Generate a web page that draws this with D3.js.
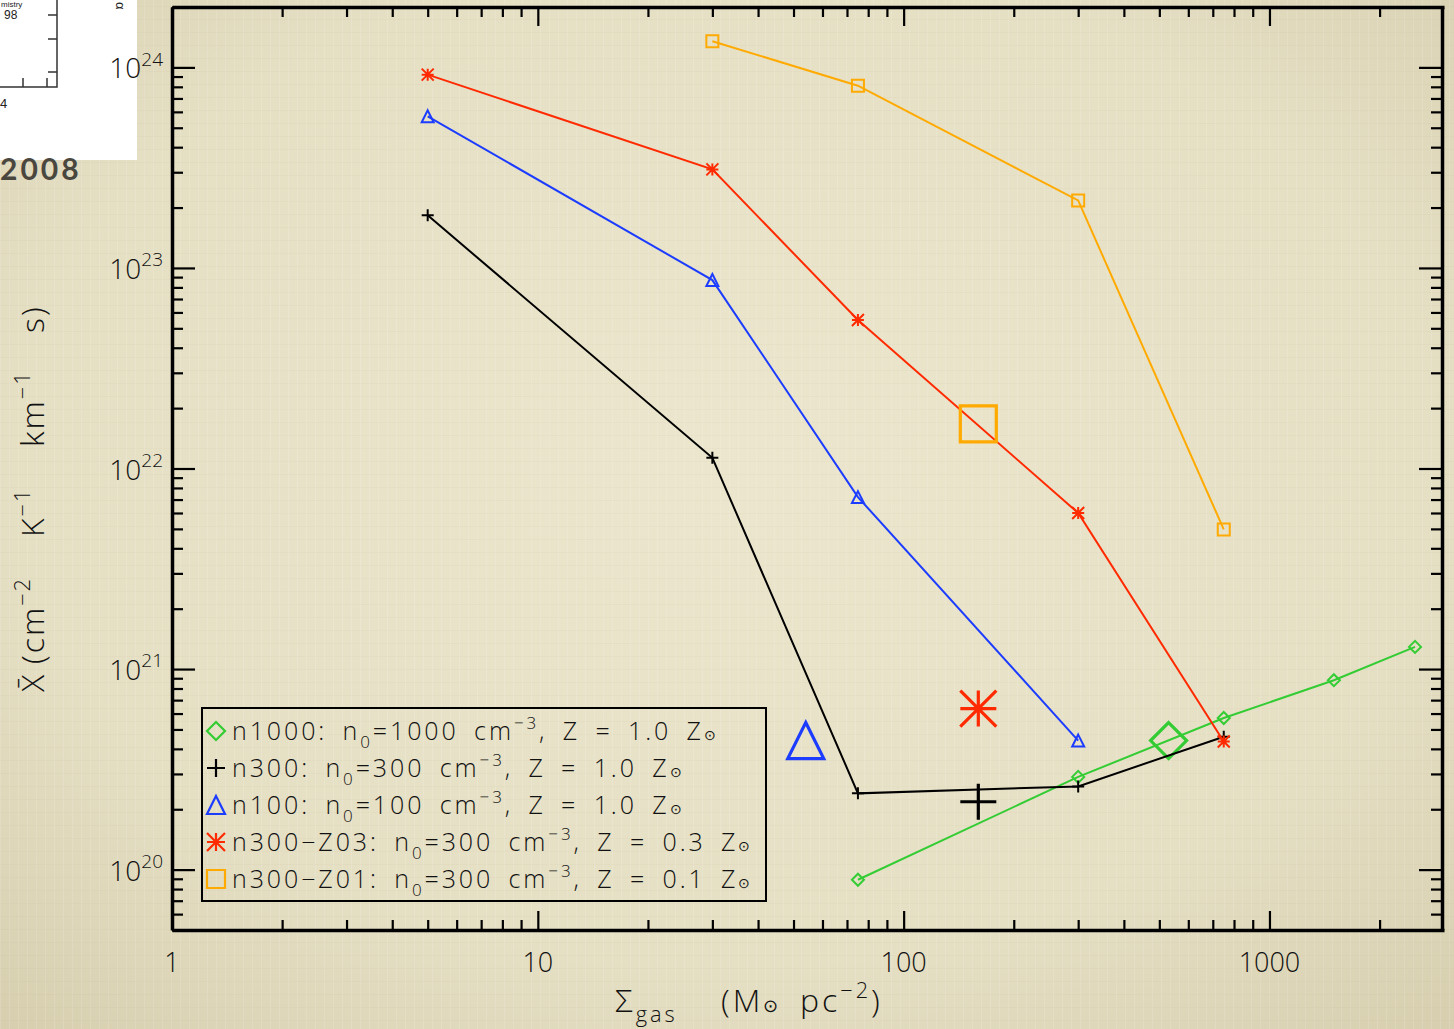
<!DOCTYPE html>
<html>
<head>
<meta charset="utf-8">
<script src="https://cdn.jsdelivr.net/npm/d3@7"></script>
<style>
  body { margin: 0; overflow: hidden; }
  svg { display: block; }
  text { white-space: pre; }
</style>
</head>
<body>
<div id="chart"></div>
<script>
// Sigma_gas (Msun pc^-2) and X-bar (cm^-2 K^-1 km^-1 s)
const sigmaN1000 = [75, 300, 750, 1500, 2500];
const xbarN1000  = [8.9e19, 2.9e20, 5.7e20, 8.8e20, 1.29e21];
const sigmaN300  = [5, 30, 75, 300, 750];
const xbarN300   = [1.83e23, 1.13e22, 2.4e20, 2.6e20, 4.6e20];
const sigmaN100  = [5, 30, 75, 300];
const xbarN100   = [5.7e23, 8.7e22, 7.2e21, 4.4e20];
const sigmaZ03   = [5, 30, 75, 300, 750];
const xbarZ03    = [9.2e23, 3.1e23, 5.5e22, 6.0e21, 4.35e20];
const sigmaZ01   = [30, 75, 300, 750];
const xbarZ01    = [1.35e24, 8.1e23, 2.17e23, 4.97e21];

// one large symbol per model (same order as the legend)
const bigSigma = [530, 160, 54, 160, 160];
const bigXbar  = [4.4e20, 2.18e20, 4.4e20, 6.35e20, 1.67e22];

const xTicks = [1, 10, 100, 1000];
const yTicks = [1e20, 1e21, 1e22, 1e23, 1e24];

const series = [
  {sig: sigmaN1000, xb: xbarN1000, color: '#33cc33', sym: 'diamond',
   label: [['n1000: n'], ['0', 'sub'], ['=1000 cm'], ['\u22123', 'sup'], [', Z = 1.0 Z'], ['\u2299', 'sun']]},
  {sig: sigmaN300, xb: xbarN300, color: '#000000', sym: 'plus',
   label: [['n300: n'], ['0', 'sub'], ['=300 cm'], ['\u22123', 'sup'], [', Z = 1.0 Z'], ['\u2299', 'sun']]},
  {sig: sigmaN100, xb: xbarN100, color: '#1c3cff', sym: 'triangle',
   label: [['n100: n'], ['0', 'sub'], ['=100 cm'], ['\u22123', 'sup'], [', Z = 1.0 Z'], ['\u2299', 'sun']]},
  {sig: sigmaZ03, xb: xbarZ03, color: '#ff2a00', sym: 'asterisk',
   label: [['n300\u2212Z03: n'], ['0', 'sub'], ['=300 cm'], ['\u22123', 'sup'], [', Z = 0.3 Z'], ['\u2299', 'sun']]},
  {sig: sigmaZ01, xb: xbarZ01, color: '#ffaa00', sym: 'square',
   label: [['n300\u2212Z01: n'], ['0', 'sub'], ['=300 cm'], ['\u22123', 'sup'], [', Z = 0.1 Z'], ['\u2299', 'sun']]}
];

const width = 1454, height = 1029;
const margin = {left: 172, right: 12, top: 7, bottom: 99};
const thin = '"Open Sans", sans-serif';

const x = d3.scaleLog().domain([1, 3000]).range([margin.left, width - margin.right + 2]);
const y = d3.scaleLog().domain([5e19, 2e24]).range([height - margin.bottom, margin.top]);
const x0 = margin.left, x1 = width - margin.right, y0 = height - margin.bottom, y1 = margin.top;

const svg = d3.select('#chart').append('svg')
  .attr('width', width)
  .attr('height', height);

// beige paper background
const defs = svg.append('defs');
const grad = defs.append('radialGradient').attr('id', 'paper')
  .attr('cx', '50%').attr('cy', '45%').attr('r', '75%');
grad.append('stop').attr('offset', '0%').attr('stop-color', '#ebe6cd');
grad.append('stop').attr('offset', '65%').attr('stop-color', '#e5dfc4');
grad.append('stop').attr('offset', '100%').attr('stop-color', '#d6ceae');
const pat = defs.append('pattern').attr('id', 'weave')
  .attr('width', 9).attr('height', 13).attr('patternUnits', 'userSpaceOnUse');
pat.append('rect').attr('width', 1).attr('height', 13).attr('fill', '#fff').attr('opacity', 0.12);
pat.append('rect').attr('y', 6).attr('width', 9).attr('height', 1).attr('fill', '#8a7d55').attr('opacity', 0.04);
svg.append('rect').attr('width', width).attr('height', height).attr('fill', 'url(#paper)');
svg.append('rect').attr('width', width).attr('height', height).attr('fill', 'url(#weave)');

// corner of the neighbouring slide figure
const inset = svg.append('g');
inset.append('rect').attr('width', 137).attr('height', 160).attr('fill', '#ffffff');
inset.append('path')
  .attr('d', 'M57,0V87H0 M48,15H57 M48,39H57 M48,72H57 M23,87V78 M47,87V78')
  .attr('fill', 'none').attr('stroke', '#333').attr('stroke-width', 1.5);
inset.append('text').attr('x', 4).attr('y', 19).style('font-family', 'Liberation Sans, sans-serif')
  .style('font-size', '12px').attr('fill', '#222').text('98');
inset.append('text').attr('x', 1).attr('y', 7).style('font-family', 'Liberation Sans, sans-serif')
  .style('font-size', '8px').attr('fill', '#222').text('mistry');
inset.append('text').attr('x', 0).attr('y', 108).style('font-family', 'Liberation Sans, sans-serif')
  .style('font-size', '13px').attr('fill', '#222').text('4');
inset.append('text').attr('transform', 'translate(116,2) rotate(90)')
  .style('font-family', 'Liberation Sans, sans-serif')
  .style('font-size', '13px').attr('fill', '#222').text('\u03b1');
svg.append('text').attr('x', 0).attr('y', 180)
  .style('font-family', 'Lato, sans-serif').style('font-weight', 'bold')
  .style('font-size', '30px').style('letter-spacing', '3px')
  .attr('fill', '#4a473f').text('2008');

// axes: ticks point into the plot on all four sides
const minorX = x.ticks().filter(v => !xTicks.includes(v) && v < 3000);
const minorY = y.ticks().filter(v => !yTicks.some(t => Math.abs(t - v) / t < 1e-6));

function styleAxis(g, keepDomain) {
  g.selectAll('.tick line').attr('stroke', '#000').attr('stroke-width', 2.2);
  g.selectAll('.tick text').remove();
  if (keepDomain) g.select('.domain').attr('stroke', '#000').attr('stroke-width', 3.5);
  else g.select('.domain').remove();
}
function addAxis(axisFn, scale, vals, size, transform, keepDomain) {
  svg.append('g').attr('transform', transform)
    .call(axisFn(scale).tickValues(vals).tickSize(size).tickSizeOuter(0).tickFormat(''))
    .call(g => styleAxis(g, keepDomain));
}
addAxis(d3.axisTop, x, xTicks, 19, `translate(0,${y0})`, true);
addAxis(d3.axisTop, x, minorX, 10, `translate(0,${y0})`, false);
addAxis(d3.axisBottom, x, xTicks, 19, `translate(0,${y1})`, true);
addAxis(d3.axisBottom, x, minorX, 10, `translate(0,${y1})`, false);
addAxis(d3.axisRight, y, yTicks, 23, `translate(${x0},0)`, true);
addAxis(d3.axisRight, y, minorY, 11, `translate(${x0},0)`, false);
addAxis(d3.axisLeft, y, yTicks, 23, `translate(${x1},0)`, true);
addAxis(d3.axisLeft, y, minorY, 11, `translate(${x1},0)`, false);

// rich text helper for sub/superscripts; optional third item = x position of the piece
function rich(sel, parts, fs) {
  let shift = 0;
  parts.forEach(([s, k, pos]) => {
    const target = k === 'sub' ? fs * 0.3 : k === 'sup' ? -fs * 0.45 : 0;
    const t = sel.append('tspan').attr('dy', target - shift).text(s);
    if (pos !== undefined) t.attr('x', pos);
    shift = target;
    if (k === 'sub' || k === 'sup') t.style('font-size', (fs * 0.68) + 'px');
    if (k === 'sun') t.style('font-size', (fs * 0.55) + 'px');
  });
}

// tick labels
svg.append('g').selectAll('text')
  .data(xTicks)
  .join('text')
  .attr('x', d => x(d))
  .attr('y', 972)
  .attr('text-anchor', 'middle')
  .style('font-family', thin)
  .style('font-weight', 300)
  .style('font-size', '27px')
  .attr('fill', '#111')
  .text(d => d3.format('d')(d));

svg.append('g').selectAll('text')
  .data(yTicks)
  .join('text')
  .attr('x', 163)
  .attr('y', d => y(d) + 11)
  .attr('text-anchor', 'end')
  .style('font-family', thin)
  .style('font-weight', 300)
  .style('font-size', '28px')
  .attr('fill', '#111')
  .each(function (d) {
    rich(d3.select(this), [['10'], [String(Math.round(Math.log10(d))), 'sup']], 28);
  });

// axis titles (words spaced out like the original vector font)
const xt = svg.append('text').attr('y', 1012)
  .style('font-family', thin).style('font-weight', 300)
  .style('font-size', '32px').style('letter-spacing', '3px').attr('fill', '#111');
rich(xt, [['\u03a3', '', 615], ['gas', 'sub'], ['(M', '', 721],
          ['\u2299', 'sun'], ['pc', '', 800], ['\u22122', 'sup'], [')']], 32);

const yt = svg.append('text')
  .attr('transform', 'translate(44,692) rotate(-90)')
  .style('font-family', thin).style('font-weight', 300)
  .style('font-size', '32px').style('letter-spacing', '2px').attr('fill', '#111');
rich(yt, [['X\u0304', '', 0], ['(cm', '', 28], ['\u22122', 'sup'],
          ['K', '', 155], ['\u22121', 'sup'], ['km', '', 245], ['\u22121', 'sup'],
          ['s', '', 359], [')']], 32);

// symbols
function symPath(type, s) {
  switch (type) {
    case 'diamond': return `M0,${-s}L${s},0L0,${s}L${-s},0Z`;
    case 'plus': return `M${-s},0H${s}M0,${-s}V${s}`;
    case 'triangle': return `M0,${-s}L${s},${s}L${-s},${s}Z`;
    case 'asterisk': return `M${-s},0H${s}M0,${-s}V${s}M${-s},${-s}L${s},${s}M${-s},${s}L${s},${-s}`;
    case 'square': return `M${-s},${-s}H${s}V${s}H${-s}Z`;
  }
}

const line = d3.line().x(d => x(d[0])).y(d => y(d[1]));
const plot = svg.append('g');
series.forEach((s, i) => {
  const pts = s.sig.map((v, j) => [v, s.xb[j]]);
  plot.append('path')
    .attr('d', line(pts))
    .attr('fill', 'none')
    .attr('stroke', s.color)
    .attr('stroke-width', 2);
  plot.append('g').selectAll('path')
    .data(pts)
    .join('path')
    .attr('transform', d => `translate(${x(d[0])},${y(d[1])})`)
    .attr('d', symPath(s.sym, 6))
    .attr('fill', 'none')
    .attr('stroke', s.color)
    .attr('stroke-width', 2);
  plot.append('path')
    .attr('transform', `translate(${x(bigSigma[i])},${y(bigXbar[i])})`)
    .attr('d', symPath(s.sym, 18))
    .attr('fill', 'none')
    .attr('stroke', s.color)
    .attr('stroke-width', 3.2);
});

// legend
const leg = svg.append('g').attr('transform', 'translate(202,708)');
leg.append('rect').attr('width', 564).attr('height', 193)
  .attr('fill', 'none').attr('stroke', '#000').attr('stroke-width', 2);
series.forEach((s, i) => {
  const cy = 23 + i * 37;
  leg.append('path')
    .attr('transform', `translate(14,${cy})`)
    .attr('d', symPath(s.sym, 9))
    .attr('fill', 'none').attr('stroke', s.color).attr('stroke-width', 2.2);
  const t = leg.append('text').attr('x', 30).attr('y', cy + 9)
    .style('font-family', thin).style('font-weight', 300).style('font-size', '25px')
    .style('letter-spacing', '2.9px').style('word-spacing', '6px')
    .attr('fill', '#111');
  rich(t, s.label, 25);
});
</script>
</body>
</html>
